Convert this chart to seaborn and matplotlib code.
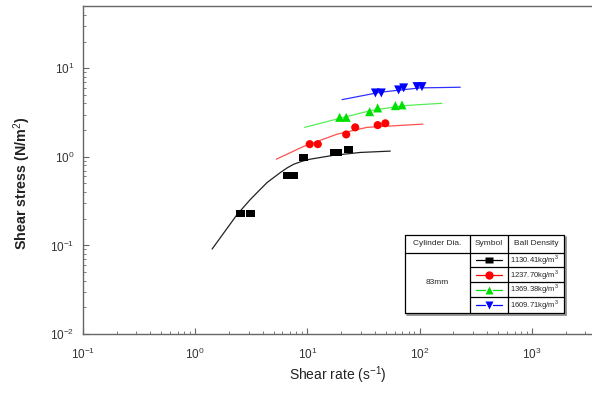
import numpy as np
import pandas as pd
import matplotlib
matplotlib.use("Agg")
import matplotlib.pyplot as plt
from matplotlib.lines import Line2D
import seaborn as sns

# Measured points (shear rate 1/s, shear stress N/m^2)
black_x = [2.54, 3.14, 6.7, 7.5, 9.3, 17.5, 18.6, 23.5]
black_y = [0.228, 0.228, 0.62, 0.62, 0.99, 1.12, 1.12, 1.21]
red_x = [10.5, 12.4, 22.2, 26.7, 42.3, 49.5]
red_y = [1.39, 1.39, 1.79, 2.15, 2.28, 2.39]
green_x = [19.4, 22.2, 35.9, 42.3, 60.8, 69.7]
green_y = [2.79, 2.79, 3.23, 3.56, 3.78, 3.85]
blue_x = [40.4, 45.6, 65.0, 72.1, 94.8, 105.0]
blue_y = [5.26, 5.26, 5.69, 6.0, 6.2, 6.2]

# Fitted curves
fit_black_x = [1.42, 2.37, 3.11, 3.68, 4.38, 5.75, 6.59, 7.55, 8.97, 10.6, 17.1, 29.6, 54.8]
fit_black_y = [0.091, 0.223, 0.33, 0.41, 0.512, 0.664, 0.748, 0.824, 0.891, 0.94, 1.04, 1.12, 1.16]
fit_red_x = [5.3, 9.27, 18.4, 34.0, 107.0]
fit_red_y = [0.94, 1.31, 1.80, 2.15, 2.34]
fit_green_x = [9.46, 18.4, 36.4, 72.1, 158.0]
fit_green_y = [2.15, 2.67, 3.32, 3.78, 4.02]
fit_blue_x = [20.4, 44.7, 101.0, 230.0]
fit_blue_y = [4.42, 5.36, 6.0, 6.1]

densities = ["1130.41", "1237.70", "1369.38", "1609.71"]
cylinder = "83mm"

sns.set_style("ticks")
plt.rcParams['font.family'] = ['Liberation Sans', 'DejaVu Sans']
plt.rcParams['mathtext.fontset'] = 'custom'
plt.rcParams['mathtext.rm'] = 'Liberation Sans'

fig = plt.figure(figsize=(5.92, 3.94), dpi=100)
ax = fig.add_axes([0.1397, 0.1523, 0.8603, 0.8317])

# slightly wide square, like the original symbols
rect = [(-1.3, -1), (1.3, -1), (1.3, 1), (-1.3, 1), (-1.3, -1)]

series = [
    (fit_black_x, fit_black_y, black_x, black_y, '#222222', 'black', rect, 42),
    (fit_red_x, fit_red_y, red_x, red_y, '#ff5050', '#ff0000', 'o', 34),
    (fit_green_x, fit_green_y, green_x, green_y, '#55ee55', '#00e000', '^', 42),
    (fit_blue_x, fit_blue_y, blue_x, blue_y, '#3030ff', '#0000ff', 'v', 42),
]
for fx, fy, px, py, lc, mc, mk, ms in series:
    fit = pd.DataFrame({'x': fx, 'y': fy})
    pts = pd.DataFrame({'x': px, 'y': py})
    sns.lineplot(data=fit, x='x', y='y', ax=ax, color=lc, lw=0.9, sort=False)
    sns.scatterplot(data=pts, x='x', y='y', ax=ax, color=mc, marker=mk,
                    s=ms, edgecolor='none', linewidth=0, zorder=3)

ax.set_xscale('log')
ax.set_yscale('log')
ax.set_xlim(0.1, 10 ** 3.535)
ax.set_ylim(0.01, 50)

ax.spines['right'].set_visible(False)
for s in ['left', 'bottom', 'top']:
    ax.spines[s].set_color('#666666')
    ax.spines[s].set_linewidth(1.0)
ax.tick_params(which='both', direction='in', colors='#666666', labelcolor='#333333',
               top=False, right=False)
ax.tick_params(which='major', length=4, labelsize=8.5)
ax.tick_params(which='minor', length=2)
ax.tick_params(axis='x', which='major', pad=9)
ax.tick_params(axis='y', which='major', pad=6)
ax.xaxis.set_minor_locator(matplotlib.ticker.LogLocator(base=10, subs=np.arange(2, 10)))
ax.yaxis.set_minor_locator(matplotlib.ticker.LogLocator(base=10, subs=np.arange(2, 10)))

ax.set_xlabel("Shear rate (s$^{-1}$)", fontsize=10, color='#222222', labelpad=2)
ax.set_ylabel("Shear stress (N/m$^{2}$)", fontsize=10.3, fontweight='bold',
              color='#222222')
ax.yaxis.set_label_coords(-0.097, 0.46)

# Table-style legend drawn in pixel coordinates
tab = fig.add_axes([0, 0, 1, 1], facecolor='none')
tab.set_xlim(0, 592)
tab.set_ylim(394, 0)
tab.axis('off')

L, R, T, B = 405, 564, 235, 313
c1, c2 = 470, 508
hb = 252.5
rows = [252.5, 267, 282, 297, 313]

def seg(x0, x1, y0, y1, color='black', lw=0.9):
    tab.add_line(Line2D([x0, x1], [y0, y1], color=color, lw=lw))

seg(L + 1.5, R + 1.5, B + 1.5, B + 1.5, color='#888888', lw=1.2)
seg(R + 1.5, R + 1.5, T + 1.5, B + 1.5, color='#888888', lw=1.2)
seg(L, R, T, T); seg(L, R, B, B); seg(L, L, T, B); seg(R, R, T, B)
seg(c1, c1, T, B); seg(c2, c2, T, B)
seg(L, R, hb, hb)
for r in rows[1:-1]:
    seg(c1, R, r, r)

fs = 6
tab.text((L + c1) / 2, (T + hb) / 2, "Cylinder Dia.", ha='center', va='center', fontsize=fs)
tab.text((c1 + c2) / 2, (T + hb) / 2, "Symbol", ha='center', va='center', fontsize=fs)
tab.text((c2 + R) / 2, (T + hb) / 2, "Ball Density", ha='center', va='center', fontsize=fs)
tab.text((L + c1) / 2, (hb + B) / 2, cylinder, ha='center', va='center', fontsize=fs)

for i, (fx, fy, px, py, lc, mc, mk, ms) in enumerate(series):
    yc = (rows[i] + rows[i + 1]) / 2
    xm = (c1 + c2) / 2
    tab.add_line(Line2D([xm - 13, xm - 4], [yc, yc], color=mc, lw=0.9))
    tab.add_line(Line2D([xm + 4, xm + 13], [yc, yc], color=mc, lw=0.9))
    tab.plot([xm], [yc], marker=mk, color=mc, ms=6, mec='none')
    tab.text(c2 + 2, yc, densities[i] + "kg/m$^3$", ha='left', va='center', fontsize=5.5)

fig.savefig("out.png", dpi=100)
